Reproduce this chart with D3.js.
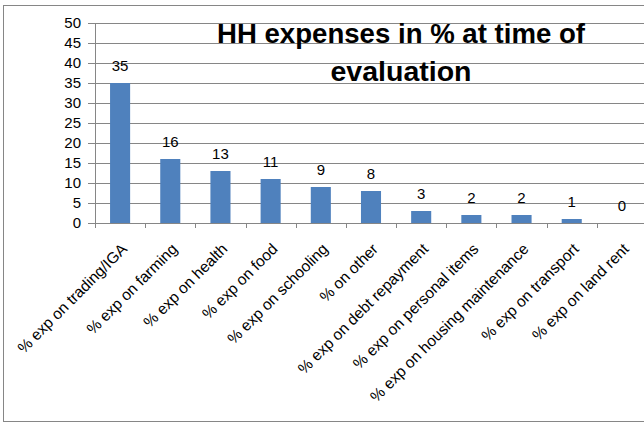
<!DOCTYPE html>
<html>
<head>
<meta charset="utf-8">
<script src="https://cdn.jsdelivr.net/npm/d3@7"></script>
<style>
  body { margin: 0; background: #fff; }
  text { font-family: "Liberation Sans", Arial, sans-serif; fill: #000; }
</style>
</head>
<body>
<script>
var width = 644, height = 423

var categories = ["% exp on trading/IGA", "% exp on farming", "% exp on health", "% exp on food",
    "% exp on schooling", "% on other", "% exp on debt repayment", "% exp on personal items",
    "% exp on housing maintenance", "% exp on transport", "% exp on land rent"]
var values = [35, 16, 13, 11, 9, 8, 3, 2, 2, 1, 0]
var yTicks = [0, 5, 10, 15, 20, 25, 30, 35, 40, 45, 50]
var titleLines = ["HH expenses in % at time of", "evaluation"]

var plot = {left: 95, right: 647, top: 23, bottom: 223}
var grey = "#868686"

var svg = d3.select("body").append("svg")
    .attr("width", width)
    .attr("height", height)

// chart frame (the right edge is cut off in the original)
svg.append("rect")
    .attr("x", 3.5).attr("y", 5.5)
    .attr("width", 700).attr("height", 416)
    .attr("fill", "none")
    .attr("stroke", grey)

var x = d3.scaleBand()
    .domain(categories)
    .range([plot.left, plot.right])
    .paddingInner(0.6)
    .paddingOuter(0.3)

var y = d3.scaleLinear()
    .domain([0, 50])
    .range([plot.bottom, plot.top])

// gridlines + y ticks
svg.append("g")
    .attr("transform", "translate(" + plot.left + ",0)")
    .call(d3.axisLeft(y).tickValues(yTicks).tickSize(7).tickPadding(7))
    .call(function(g) {
        g.select(".domain").remove()
        g.selectAll(".tick line").attr("stroke", grey)
        g.selectAll(".tick text").style("font-size", "15px")
        g.selectAll(".tick").append("line")
            .attr("x2", plot.right - plot.left)
            .attr("stroke", grey)
    })

// y axis line
svg.append("line")
    .attr("x1", plot.left + 0.5).attr("x2", plot.left + 0.5)
    .attr("y1", plot.top).attr("y2", plot.bottom + 5)
    .attr("stroke", grey)

// category boundary ticks
var step = x.step()
svg.append("g").selectAll("line")
    .data(d3.range(categories.length + 1))
    .enter().append("line")
    .attr("x1", function(i) { return Math.round(plot.left + i * step) + 0.5 })
    .attr("x2", function(i) { return Math.round(plot.left + i * step) + 0.5 })
    .attr("y1", plot.bottom)
    .attr("y2", plot.bottom + 5)
    .attr("stroke", grey)

svg.append("line")
    .attr("x1", plot.left).attr("x2", plot.right)
    .attr("y1", plot.bottom + 0.5).attr("y2", plot.bottom + 0.5)
    .attr("stroke", grey)

// bars
svg.append("g").selectAll("rect")
    .data(values)
    .enter().append("rect")
    .attr("x", function(d, i) { return x(categories[i]) })
    .attr("y", function(d) { return y(d) })
    .attr("width", x.bandwidth())
    .attr("height", function(d) { return y(0) - y(d) })
    .attr("fill", "#4F81BD")

// value labels
svg.append("g").selectAll("text")
    .data(values)
    .enter().append("text")
    .attr("x", function(d, i) { return x(categories[i]) + x.bandwidth() / 2 })
    .attr("y", function(d) { return y(d) - 12 })
    .attr("text-anchor", "middle")
    .style("font-size", "15px")
    .text(function(d) { return d })

// rotated category labels
svg.append("g").selectAll("text")
    .data(categories)
    .enter().append("text")
    .attr("transform", function(d) {
        return "translate(" + (x(d) + x.bandwidth() / 2 + 8) + "," + 250 + ") rotate(-45)"
    })
    .attr("text-anchor", "end")
    .style("font-size", "15.5px")
    .text(function(d) { return d })

// title
svg.append("g").selectAll("text")
    .data(titleLines)
    .enter().append("text")
    .attr("x", 401)
    .attr("y", function(d, i) { return 43 + i * 38 })
    .attr("text-anchor", "middle")
    .attr("textLength", function(d, i) { return i === 0 ? 368 : 141 })
    .attr("lengthAdjust", "spacingAndGlyphs")
    .style("font-size", "27px")
    .style("font-weight", "bold")
    .text(function(d) { return d })
</script>
</body>
</html>
